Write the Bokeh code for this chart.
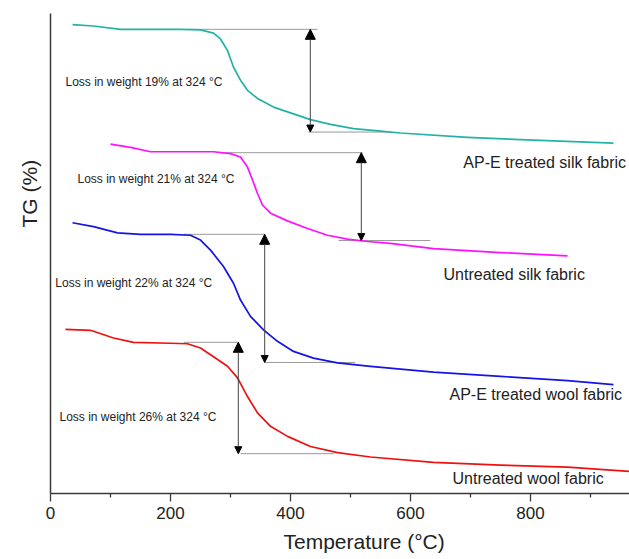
from bokeh.plotting import figure
from bokeh.models import Range1d, FixedTicker, Arrow, NormalHead, Title
from bokeh.embed import file_html
from bokeh.resources import INLINE
from bokeh.core.properties import value

FONT = "Liberation Sans"

# ---- data (temperature in °C, TG in offset % units) ----
silk_ape_T = [36.7, 71.7, 116.7, 166.7, 216.7, 250, 271.7, 283.3, 295, 305, 316.7, 328.3, 345, 371.7,
              405, 433.3, 466.7, 505, 550, 583.3, 695, 805, 938.3]
silk_ape_TG = [97.7, 97.4, 96.7, 96.7, 96.7, 96.6, 95.9, 94.7, 92.3, 88.8, 86.1, 84.0, 82.3, 80.5,
               79.1, 77.9, 76.9, 76.0, 75.5, 75.1, 74.2, 73.6, 73.0]

silk_un_T = [100, 133.3, 166.7, 216.7, 271.7, 300, 316.7, 328.3, 336.7, 345, 353.3, 366.7, 395, 428.3,
             461.7, 495, 528.3, 566.7, 638.3, 750, 861.7]
silk_un_TG = [72.8, 72.1, 71.2, 71.2, 71.2, 70.8, 70.1, 68.0, 65.3, 62.5, 60.1, 58.4, 56.8, 55.2,
              53.8, 53.0, 52.5, 52.1, 51.0, 50.2, 49.5]

wool_ape_T = [36.7, 71.7, 111.7, 150, 200, 233.3, 250, 266.7, 288.3, 305, 316.7, 333.3, 355, 378.3,
              405, 438.3, 478.3, 533.3, 638.3, 750, 861.7, 938.3]
wool_ape_TG = [56.4, 55.6, 54.3, 54.0, 54.0, 53.8, 52.8, 50.7, 47.3, 43.8, 40.3, 36.9, 34.1, 31.7,
               29.6, 28.2, 27.2, 26.5, 25.3, 24.4, 23.5, 22.7]

wool_un_T = [25, 66.7, 105, 138.3, 200, 228.3, 250, 271.7, 295, 311.7, 328.3, 345, 366.7, 395,
             433.3, 478.3, 533.3, 638.3, 750, 861.7, 966.7]
wool_un_TG = [34.2, 34.0, 32.4, 31.5, 31.3, 31.2, 30.3, 28.5, 26.5, 24.1, 20.2, 16.8, 14.0, 11.9,
              9.8, 8.5, 7.6, 6.5, 5.9, 5.5, 4.6]

series_names = ["AP-E treated silk fabric", "Untreated silk fabric",
                "AP-E treated wool fabric", "Untreated wool fabric"]
series_colors = ["#22b3a6", "#ff10ff", "#1414e6", "#ee1111"]
name_T = [688, 655, 665, 670]
name_TG = [69.0, 45.7, 20.6, 3.1]

# weight-loss annotations: top level, bottom level, arrow temperature, guide line extents
loss_text = ["Loss in weight 19% at 324 °C", "Loss in weight 21% at 324 °C",
             "Loss in weight 22% at 324 °C", "Loss in weight 26% at 324 °C"]
loss_text_T = [25, 45, 8, 15]
loss_text_TG = [85.7, 65.5, 43.9, 16.0]
arrow_T = [433, 518, 357, 313]
top_TG = [96.7, 71.0, 54.0, 31.5]
bottom_TG = [75.3, 52.7, 27.3, 8.3]
top_line_from = [228, 290, 222, 222]
top_line_to = [445, 520, 357, 313]
bottom_line_from = [430, 480, 357, 317]
bottom_line_to = [567, 633, 508, 472]

x_ticks = [0, 200, 400, 600, 800]
x_minor_ticks = [100, 300, 500, 700, 900]

# ---- figure ----
p = figure(width=629, height=559, output_backend="svg", toolbar_location=None,
           x_range=Range1d(0, 965), y_range=Range1d(0, 100),
           min_border_left=50, min_border_right=0, min_border_top=13, min_border_bottom=65)
p.outline_line_color = None
p.xgrid.visible = False
p.ygrid.visible = False
p.background_fill_color = "white"

xa = p.xaxis[0]
xa.ticker = FixedTicker(ticks=x_ticks, minor_ticks=x_minor_ticks)
xa.axis_line_color = "#3a3a3a"
xa.axis_line_width = 1.5
xa.major_tick_line_color = "#3a3a3a"
xa.minor_tick_line_color = "#3a3a3a"
xa.major_tick_line_width = 1.3
xa.minor_tick_line_width = 1.3
xa.major_tick_out = 8
xa.major_tick_in = 0
xa.minor_tick_out = 4
xa.minor_tick_in = 0
xa.major_label_text_font = FONT
xa.major_label_text_font_size = "17px"
xa.major_label_text_color = "#222222"
xa.major_label_standoff = 5

ya = p.yaxis[0]
ya.ticker = FixedTicker(ticks=[])
ya.axis_line_color = "#3a3a3a"
ya.axis_line_width = 1.5
ya.major_tick_line_color = None
ya.minor_tick_line_color = None

# guide lines
p.segment(x0=top_line_from, y0=top_TG, x1=top_line_to, y1=top_TG, line_color="#9a9a9a", line_width=1)
p.segment(x0=bottom_line_from, y0=bottom_TG, x1=bottom_line_to, y1=bottom_TG, line_color="#9a9a9a", line_width=1)

# curves
curves = [(silk_ape_T, silk_ape_TG), (silk_un_T, silk_un_TG), (wool_ape_T, wool_ape_TG), (wool_un_T, wool_un_TG)]
for (t, tg), c in zip(curves, series_colors):
    p.line(t, tg, line_color=c, line_width=1.7, line_join="round")

# arrows
for xa_, yt, yb in zip(arrow_T, top_TG, bottom_TG):
    p.add_layout(Arrow(x_start=xa_, y_start=yb, x_end=xa_, y_end=yt,
                       line_color="#444444", line_width=1,
                       start=NormalHead(size=7, fill_color="black", line_color="black"),
                       end=NormalHead(size=10, fill_color="black", line_color="black")))

# texts
p.text(x=loss_text_T, y=loss_text_TG, text=loss_text, text_font=value(FONT), text_font_size="12px",
       text_baseline="middle", text_align="left", text_color="#222222")
p.text(x=name_T, y=name_TG, text=series_names, text_font=value(FONT), text_font_size="16px",
       text_baseline="middle", text_align="left", text_color="#222222")

# axis titles
p.add_layout(Title(text="Temperature (°C)", align="left", offset=233, standoff=13, text_font=FONT,
                   text_font_size="21px", text_font_style="normal", text_color="#222222"), "below")
p.add_layout(Title(text="TG (%)", align="left", offset=266, standoff=16, text_font=FONT,
                   vertical_align="top",
                   text_font_size="21px", text_font_style="normal", text_color="#222222"), "left")

open("out.html", "w").write(file_html(p, INLINE))
